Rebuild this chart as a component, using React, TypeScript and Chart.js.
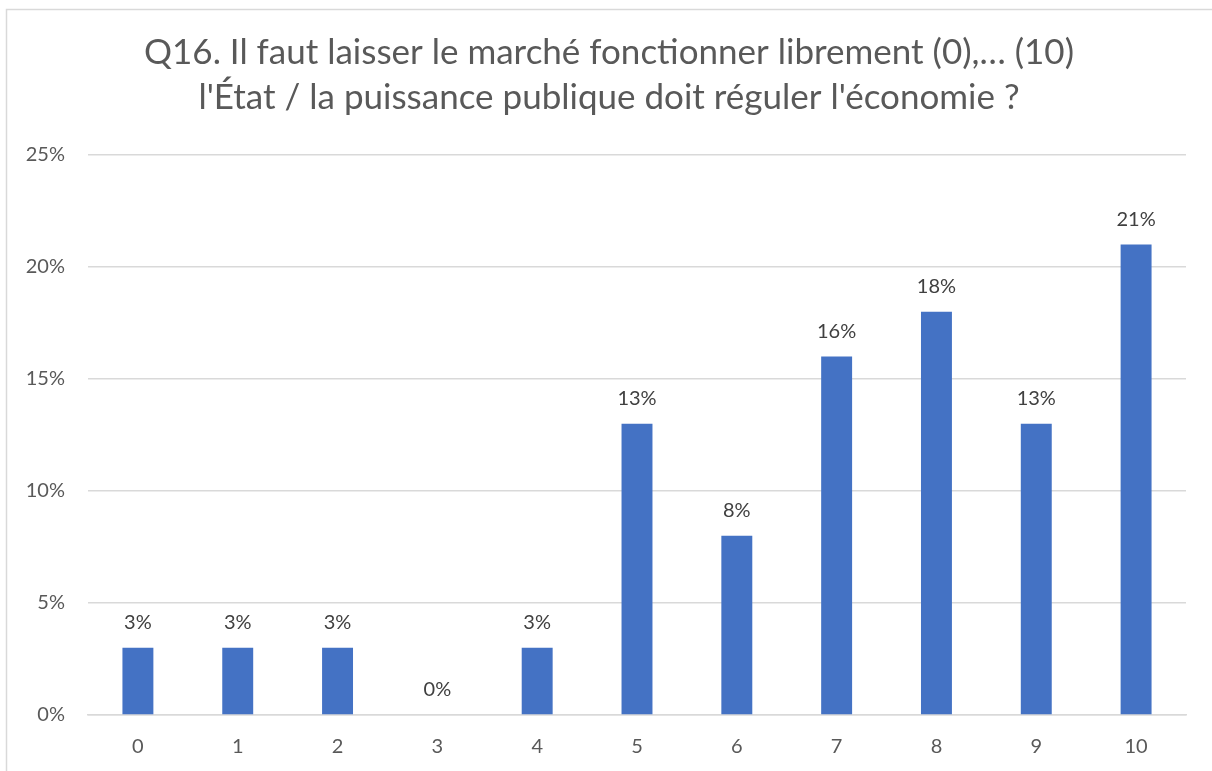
import React, { useEffect, useRef } from "react";
import { Chart, registerables } from "chart.js";

Chart.register(...registerables);

const categories = ["0", "1", "2", "3", "4", "5", "6", "7", "8", "9", "10"];
const values = [3, 3, 3, 0, 3, 13, 8, 16, 18, 13, 21];
const titleLines = [
  "Q16. Il faut laisser le marché fonctionner librement (0),… (10)",
  "l'État / la puissance publique doit réguler l'économie ?",
];
const yMax = 25;
const yStep = 5;

const FONT = "Lato, 'Open Sans', sans-serif";

export default function App() {
  const ref = useRef<HTMLCanvasElement | null>(null);

  useEffect(() => {
    const canvas = ref.current;
    if (!canvas) return;

    const framePlugin = {
      id: "frame",
      beforeDraw(chart: any) {
        const ctx = chart.ctx;
        ctx.save();
        ctx.fillStyle = "#ffffff";
        ctx.fillRect(0, 0, chart.width, chart.height);
        ctx.strokeStyle = "#d9d9d9";
        ctx.lineWidth = 1.5;
        ctx.beginPath();
        ctx.moveTo(6.5, chart.height);
        ctx.lineTo(6.5, 9.5);
        ctx.lineTo(chart.width, 9.5);
        ctx.stroke();
        ctx.restore();
      },
    };

    const titlePlugin = {
      id: "customTitle",
      afterDraw(chart: any) {
        const ctx = chart.ctx;
        ctx.save();
        ctx.font = `35px ${FONT}`;
        ctx.fillStyle = "#595959";
        ctx.textAlign = "center";
        ctx.textBaseline = "middle";
        titleLines.forEach((line, i) => {
          ctx.fillText(line, 609, 52.5 + i * 45);
        });
        ctx.restore();
      },
    };

    const labelPlugin = {
      id: "barLabels",
      afterDatasetsDraw(chart: any) {
        const ctx = chart.ctx;
        const meta = chart.getDatasetMeta(0);
        ctx.save();
        ctx.font = `20px ${FONT}`;
        ctx.fillStyle = "#404040";
        ctx.textAlign = "center";
        ctx.textBaseline = "middle";
        meta.data.forEach((el: any, i: number) => {
          ctx.fillText(values[i] + "%", el.x, el.y - 25);
        });
        ctx.restore();
      },
    };

    const chart = new Chart(canvas, {
      type: "bar",
      data: {
        labels: categories,
        datasets: [
          {
            data: values,
            backgroundColor: "#4472C4",
            borderWidth: 0,
            barPercentage: 0.31,
            categoryPercentage: 1,
          },
        ],
      },
      options: {
        animation: false,
        responsive: false,
        maintainAspectRatio: false,
        layout: { padding: { left: 0, right: 26, top: 155, bottom: 0 } },
        plugins: {
          legend: { display: false },
          tooltip: { enabled: false },
          title: { display: false },
        },
        scales: {
          x: {
            grid: { display: false, drawTicks: false },
            border: { display: true, color: "#d9d9d9", width: 1.5 },
            ticks: {
              color: "#595959",
              font: { family: FONT, size: 20 },
              padding: 20,
              maxRotation: 0,
            },
            afterFit(scale: any) {
              scale.height = 56;
            },
          },
          y: {
            min: 0,
            max: yMax,
            grid: { color: "#d9d9d9", lineWidth: 1.5, drawTicks: false },
            border: { display: false },
            ticks: {
              stepSize: yStep,
              color: "#595959",
              font: { family: FONT, size: 20 },
              padding: 23,
              callback: (v: any) => v + "%",
            },
            afterFit(scale: any) {
              scale.width = 88;
            },
          },
        },
      },
      plugins: [framePlugin, labelPlugin, titlePlugin],
    });

    return () => chart.destroy();
  }, []);

  return (
    <div style={{ position: "absolute", left: 0, top: 0, width: 1212, height: 771 }}>
      <canvas ref={ref} width={1212} height={771} style={{ width: 1212, height: 771 }} />
    </div>
  );
}
